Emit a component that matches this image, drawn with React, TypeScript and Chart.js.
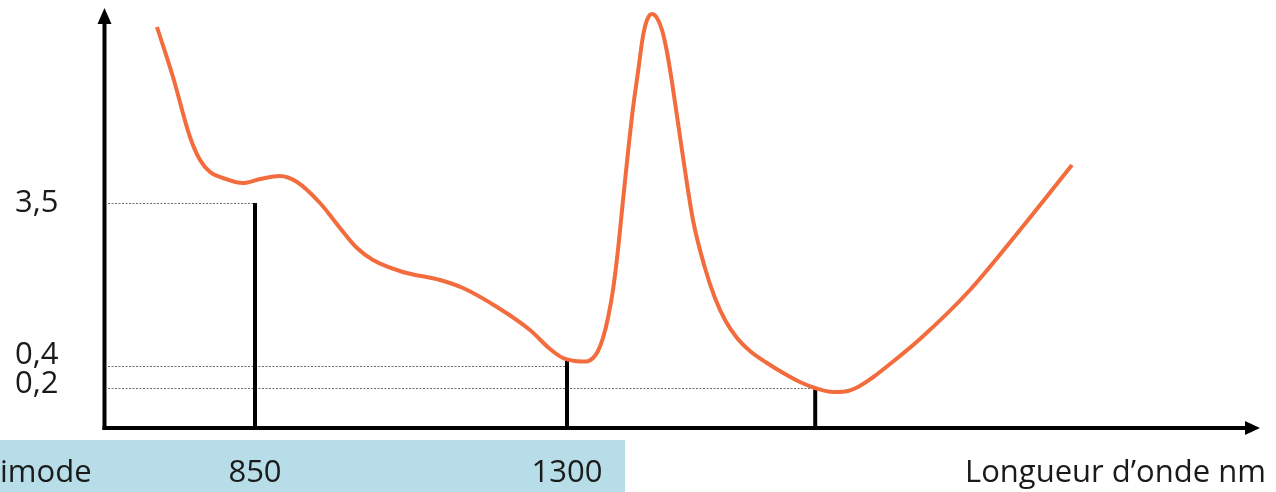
import React, { useEffect, useRef } from 'react';
import { Chart, registerables } from 'chart.js';

Chart.register(...registerables);

// Schematic attenuation curve (x: wavelength in nm, y: schematic attenuation level)
const wavelengthNm = [
  708.6, 731.7, 756.2, 770.7, 785.1, 803.8, 832.7, 857.2, 886.0, 910.6,
  943.7, 972.6, 997.1, 1020.2, 1063.4, 1116.8, 1150.0, 1199.0, 1246.6, 1275.5,
  1294.2, 1311.5, 1327.4, 1337.5, 1344.7, 1351.9, 1359.1, 1366.3, 1373.5, 1380.8,
  1388.0, 1395.2, 1402.4, 1409.6, 1415.4, 1422.6, 1429.8, 1437.0, 1444.2, 1451.4,
  1465.8, 1481.7, 1499.0, 1513.4, 1527.9, 1545.2, 1563.9, 1588.4, 1614.4, 1636.0,
  1657.7, 1683.6, 1701.0, 1719.7, 1739.9, 1765.8, 1809.1, 1881.2, 1953.3, 2028.3,
];
const attenuation = [
  4.01, 3.51, 2.91, 2.68, 2.56, 2.50, 2.45, 2.49, 2.52, 2.46,
  2.25, 2.00, 1.80, 1.68, 1.56, 1.48, 1.40, 1.21, 0.98, 0.79,
  0.70, 0.67, 0.665, 0.70, 0.77, 0.90, 1.10, 1.38, 1.78, 2.28,
  2.76, 3.20, 3.56, 3.92, 4.08, 4.14, 4.10, 3.98, 3.76, 3.46,
  2.78, 2.08, 1.60, 1.30, 1.08, 0.90, 0.77, 0.65, 0.54, 0.46,
  0.40, 0.36, 0.365, 0.41, 0.50, 0.64, 0.89, 1.38, 1.98, 2.63,
];

const xTickValues = [850, 1300];
const xTickLabels = ['850', '1300'];
const yLabelLevels = [0.44, 0.73, 2.25];
const yTickLabels = ['0,2', '0,4', '3,5'];

// reference (dotted) levels and drop lines
const refLevels = [2.25, 0.62, 0.4];
const dropWavelengths = [850, 1300, 1658];
const dropTops = [2.25, 0.68, 0.4];

const bandLabel = 'imode';
const axisTitle = 'Longueur d’onde nm';

const X_MIN = 632.2;
const X_MAX = 2299.5;
const Y_MIN = 0;
const Y_MAX = 4.18;

const FONT = '"Open Sans", "Noto Sans", sans-serif';
const FONT_SIZE = 31;
const TEXT_COLOR = '#1a1a1a';

const schematicPlugin = {
  id: 'schematic',
  beforeDraw(chart: any) {
    const ctx = chart.ctx;
    ctx.save();
    ctx.fillStyle = '#B7DDE8';
    ctx.fillRect(0, 440, 625, 52);
    ctx.restore();
  },
  beforeDatasetsDraw(chart: any) {
    const ctx = chart.ctx;
    const xs = chart.scales.x;
    const ys = chart.scales.y;
    const area = chart.chartArea;
    const y0 = ys.getPixelForValue(0);
    ctx.save();
    // dotted reference lines
    ctx.strokeStyle = '#6b6b6b';
    ctx.lineWidth = 1;
    ctx.setLineDash([2, 1.5]);
    refLevels.forEach((lv, i) => {
      const y = Math.round(ys.getPixelForValue(lv)) + 0.5;
      ctx.beginPath();
      ctx.moveTo(area.left + 4, y);
      ctx.lineTo(xs.getPixelForValue(dropWavelengths[i]), y);
      ctx.stroke();
    });
    ctx.setLineDash([]);
    // vertical drop lines
    ctx.strokeStyle = '#000';
    ctx.lineWidth = 4;
    dropWavelengths.forEach((w, i) => {
      const x = xs.getPixelForValue(w);
      ctx.beginPath();
      ctx.moveTo(x, ys.getPixelForValue(dropTops[i]));
      ctx.lineTo(x, y0);
      ctx.stroke();
    });
    // axes with arrows
    const ax = area.left + 0.5;
    ctx.beginPath();
    ctx.moveTo(ax, y0 + 2);
    ctx.lineTo(ax, area.top + 12);
    ctx.stroke();
    ctx.fillStyle = '#000';
    ctx.beginPath();
    ctx.moveTo(ax, area.top - 2);
    ctx.lineTo(ax - 7, area.top + 14);
    ctx.lineTo(ax + 7, area.top + 14);
    ctx.closePath();
    ctx.fill();
    ctx.beginPath();
    ctx.moveTo(ax - 2, y0);
    ctx.lineTo(area.right - 12, y0);
    ctx.stroke();
    ctx.beginPath();
    ctx.moveTo(area.right, y0);
    ctx.lineTo(area.right - 15, y0 - 7);
    ctx.lineTo(area.right - 15, y0 + 7);
    ctx.closePath();
    ctx.fill();
    ctx.restore();
  },
  afterDraw(chart: any) {
    const ctx = chart.ctx;
    ctx.save();
    ctx.font = `${FONT_SIZE}px ${FONT}`;
    ctx.fillStyle = TEXT_COLOR;
    ctx.textBaseline = 'alphabetic';
    ctx.textAlign = 'left';
    ctx.fillText(bandLabel, 0, 482);
    ctx.fillText(axisTitle, 965, 482);
    ctx.restore();
  },
};

export default function App() {
  const canvasRef = useRef<HTMLCanvasElement | null>(null);

  useEffect(() => {
    document.body.style.margin = '0';
    const canvas = canvasRef.current;
    if (!canvas) return;
    const chart = new Chart(canvas, {
      type: 'line',
      data: {
        datasets: [
          {
            data: wavelengthNm.map((x, i) => ({ x, y: attenuation[i] })),
            borderColor: '#F36C3D',
            borderWidth: 4,
            pointRadius: 0,
            cubicInterpolationMode: 'monotone',
            fill: false,
            clip: false as any,
          },
        ],
      },
      options: {
        animation: false,
        responsive: true,
        maintainAspectRatio: false,
        layout: { padding: { top: 10, right: 16, left: 15, bottom: 0 } },
        plugins: {
          legend: { display: false },
          tooltip: { enabled: false },
        },
        events: [],
        scales: {
          x: {
            type: 'linear',
            min: X_MIN,
            max: X_MAX,
            grid: { display: false, drawTicks: false },
            border: { display: false },
            afterFit: (scale: any) => {
              scale.height = 64;
            },
            afterBuildTicks: (scale: any) => {
              scale.ticks = xTickValues.map((v) => ({ value: v }));
            },
            ticks: {
              autoSkip: false,
              maxRotation: 0,
              padding: 27,
              color: TEXT_COLOR,
              font: { family: FONT, size: FONT_SIZE },
              callback: (_v: any, i: number) => xTickLabels[i],
            },
          },
          y: {
            type: 'linear',
            min: Y_MIN,
            max: Y_MAX,
            grid: { display: false, drawTicks: false },
            border: { display: false },
            afterFit: (scale: any) => {
              scale.width = 89;
            },
            afterBuildTicks: (scale: any) => {
              scale.ticks = yLabelLevels.map((v) => ({ value: v }));
            },
            ticks: {
              autoSkip: false,
              padding: 0,
              crossAlign: 'far',
              color: TEXT_COLOR,
              font: { family: FONT, size: FONT_SIZE, lineHeight: 0.5 },
              callback: (_v: any, i: number) => yTickLabels[i],
            },
          },
        },
      },
      plugins: [schematicPlugin],
    });
    return () => chart.destroy();
  }, []);

  return (
    <div style={{ position: 'absolute', left: 0, top: 0, width: 1276, height: 492, background: '#fff' }}>
      <canvas ref={canvasRef} />
    </div>
  );
}
